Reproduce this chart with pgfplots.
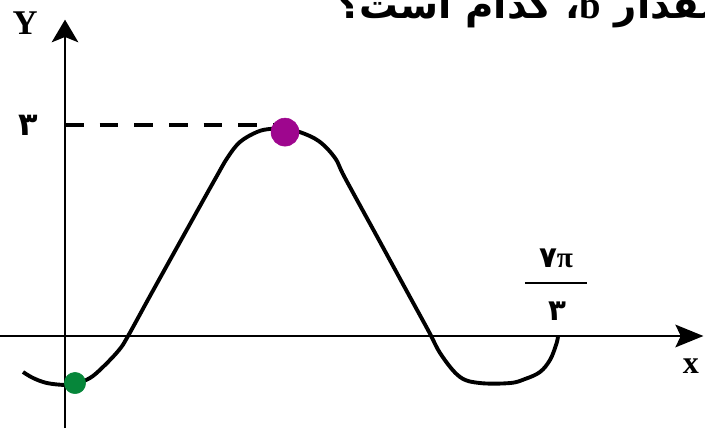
\documentclass[border=0pt]{standalone}
\usepackage{pgfplots}
\pgfplotsset{compat=1.18}
\usepackage{fontspec}
\usetikzlibrary{arrows.meta}
\setmainfont{Liberation Serif}
\newfontfamily\fa[Script=Arabic]{DejaVu Sans}
\TeXXeTstate=1
\definecolor{mag}{RGB}{158,6,142}
\definecolor{grn}{RGB}{6,134,58}
\begin{document}
\begin{tikzpicture}
\begin{axis}[
  scale only axis, width=528.75pt, height=324pt,
  xmin=-0.9673, xmax=9.5238, ymin=-1.3656, ymax=4.7795,
  hide axis, clip=false]
% axes
\draw[line width=1.5pt, -{Stealth[length=21pt,width=17pt,inset=4pt]}] (axis cs:-0.967,0) -- (axis cs:9.50,0);
\draw[line width=1.5pt, -{Stealth[length=17pt,width=20pt,inset=4pt]}] (axis cs:0,-1.309) -- (axis cs:0,4.50);
% dashed
\addplot[line width=2.4pt, dash pattern=on 14pt off 12pt] coordinates {(0,3.0) (3.10,3.0)};
% curve
\addplot[line width=2.9pt, smooth, tension=0.6] coordinates {
(-0.625,-0.512) (-0.476,-0.597) (-0.268,-0.669) (0,-0.697) (0.149,-0.683)
(0.372,-0.597) (0.565,-0.441) (0.804,-0.199) (0.938,0) (1.265,0.569)
(1.711,1.337) (2.009,1.849) (2.250,2.260) (2.420,2.540) (2.604,2.760)
(2.857,2.902) (3.051,2.945) (3.274,2.945) (3.497,2.90) (3.780,2.770)
(4.018,2.532) (4.167,2.248) (4.688,1.337) (5.060,0.683) (5.402,0.085)
(5.600,-0.270) (5.878,-0.583) (6.176,-0.669) (6.622,-0.669) (6.845,-0.612)
(7.068,-0.512) (7.217,-0.341) (7.307,-0.128) (7.336,-0.014)};
% dots
\addplot[only marks, mark=*, mark size=10.5pt, color=mag] coordinates {(3.274,2.90)};
\addplot[only marks, mark=*, mark size=8pt, color=grn] coordinates {(0.149,-0.669)};
% labels
\node at (axis cs:-0.595,4.452) {\fontsize{26}{26}\selectfont\bfseries Y};
\node at (axis cs:-0.551,3.0) {\fa\bfseries\fontsize{24}{24}\selectfont ۳};
\node at (axis cs:7.307,1.110) {\fontsize{22}{22}\selectfont\bfseries{\fa ۷}π};
\draw[line width=1.5pt] (axis cs:6.845,0.754) -- (axis cs:7.768,0.754);
\node at (axis cs:7.321,0.356) {\fa\bfseries\fontsize{22}{22}\selectfont ۳};
\node at (axis cs:9.315,-0.427) {\fontsize{24}{24}\selectfont\bfseries x};
\node[anchor=base west, inner sep=0pt] at (axis cs:4.048,4.523) {\fa\bfseries\fontsize{29}{29}\selectfont\beginR مقدار {\normalfont\bfseries b}، کدام است؟\endR};
\end{axis}
\pgfresetboundingbox
\useasboundingbox (current axis.south west) rectangle (current axis.north east);
\end{tikzpicture}
\end{document}
